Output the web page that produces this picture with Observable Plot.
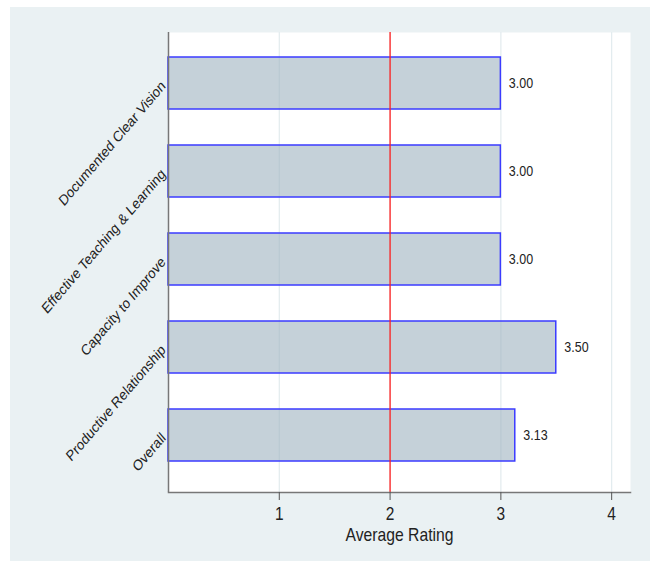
<!DOCTYPE html>
<html>
<head>
<meta charset="utf-8">
<script src="https://cdn.jsdelivr.net/npm/d3@7"></script>
<script src="https://cdn.jsdelivr.net/npm/@observablehq/plot@0.6"></script>
<style>
  html, body { margin: 0; padding: 0; background: #ffffff; }
  #chart { position: absolute; left: 10px; top: 7px; width: 640px; height: 554px; background: #eaf1f3; }
  svg { font-family: "Liberation Sans", Arial, sans-serif; }
</style>
</head>
<body>
<div id="chart"></div>
<script>
const categories = ["Documented Clear Vision", "Effective Teaching & Learning", "Capacity to Improve", "Productive Relationship", "Overall"];
const ratings = [3.00, 3.00, 3.00, 3.50, 3.13];
const xTicks = [1, 2, 3, 4];
const threshold = [2];

const data = categories.map((c, i) => ({category: c, rating: ratings[i]}));

const plot = Plot.plot({
  width: 640,
  height: 554,
  marginLeft: 158,
  marginRight: 20,
  marginTop: 25,
  marginBottom: 69,
  style: {background: "transparent", fontFamily: "Liberation Sans, Arial, sans-serif"},
  x: {domain: [0, 4.17]},
  y: {domain: categories, paddingInner: 0.41, paddingOuter: 0.3, align: 0.45, axis: null},
  marks: [
    Plot.frame({fill: "white", stroke: null}),
    Plot.ruleX(xTicks, {stroke: "#e2ebee", strokeWidth: 1.2}),
    Plot.barX(data, {x: "rating", y: "category", fill: "#9fb3c0", fillOpacity: 0.6, stroke: "#3b3bff", strokeWidth: 1.5}),
    Plot.ruleX(threshold, {stroke: "#ff2020", strokeWidth: 1.3}),
    Plot.text(data, {x: "rating", y: "category", text: d => d.rating.toFixed(2), dx: 8, textAnchor: "start", fontSize: 12.5, fill: "#222"}),
    Plot.text(categories, {y: d => d, frameAnchor: "left", rotate: -45, textAnchor: "end", dx: -5, fontSize: 12.8, fill: "#222"}),
    Plot.ruleX([0], {stroke: "#777", strokeWidth: 1.5}),
    Plot.frame({anchor: "bottom", stroke: "#777", strokeWidth: 1.5}),
    Plot.axisX({ticks: xTicks, tickSize: 8, tickPadding: 7, fontSize: 15.5, label: null, tickFormat: d => d, stroke: "#555", color: "#222"}),
    Plot.text(["Average Rating"], {frameAnchor: "bottom", dy: 48, fontSize: 15.7, fill: "#222"})
  ]
});
// emulate the vertically stretched glyphs of the reference
d3.select(plot).selectAll("text").each(function() {
  const t = this.getAttribute("transform");
  if (t && t.includes("translate")) {
    this.setAttribute("transform", t.replace(/translate\([^)]*\)/, m => m + " scale(1,1.17)"));
  }
});
document.getElementById("chart").appendChild(plot);
</script>
</body>
</html>
